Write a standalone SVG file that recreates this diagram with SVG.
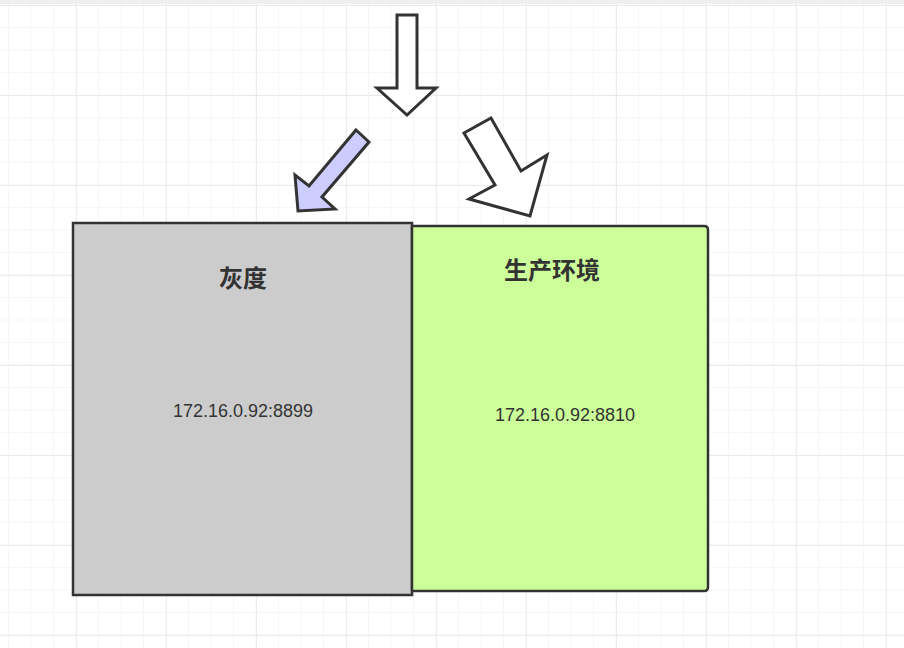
<svg xmlns="http://www.w3.org/2000/svg" width="904" height="648" viewBox="0 0 904 648">
<defs>
<pattern id="g" width="22.5" height="22.5" patternUnits="userSpaceOnUse" x="8" y="4.5">
<path d="M0 0V22.5M0 0H22.5" stroke="#f0f0f0" stroke-width="1.2" fill="none"/>
</pattern>
<pattern id="G" width="90" height="90" patternUnits="userSpaceOnUse" x="76" y="95">
<path d="M0 0V90M0 0H90" stroke="#e6e6e6" stroke-width="1.4" fill="none"/>
</pattern>
</defs>
<style>
.a{stroke:#333;stroke-width:3;stroke-linejoin:miter;fill:#fff}
.t{font-family:"Liberation Sans","Noto Sans CJK SC",sans-serif;fill:#333}
</style>
<rect width="904" height="648" fill="#fff"/>
<rect width="904" height="648" fill="url(#g)"/>
<rect width="904" height="648" fill="url(#G)"/>
<rect width="904" height="4" fill="#efefef"/>
<g id="arrows">
<polygon class="a" points="397,15 417,15 417,88 436,88 407,115 377,88 397,88"/>
<polygon class="a" style="fill:#ccccff" points="356,130 369,142 322,197 335,209 298,211 295,175 309,186"/>
<polygon class="a" points="464,133 491,118 521,171 547,155 530,216 469,199 495,185"/>
</g>
<g id="gray">
<rect x="73" y="223" width="339" height="372" fill="#cccccc" stroke="#333" stroke-width="2.5"/>
<text class="t" x="243" y="287" text-anchor="middle" font-size="24" font-weight="bold">灰度</text>
<text class="t" x="243" y="417" text-anchor="middle" font-size="18">172.16.0.92:8899</text>
</g>
<g id="prod">
<path d="M412 226H704Q708 226 708 230V587Q708 591 704 591H412" fill="#ccff99" stroke="#333" stroke-width="2.5"/>
<line x1="412" y1="226" x2="412" y2="591" stroke="#333" stroke-width="2.5"/>
<text class="t" x="552" y="279" text-anchor="middle" font-size="24" font-weight="bold">生产环境</text>
<text class="t" x="565" y="421" text-anchor="middle" font-size="18">172.16.0.92:8810</text>
</g>
</svg>
